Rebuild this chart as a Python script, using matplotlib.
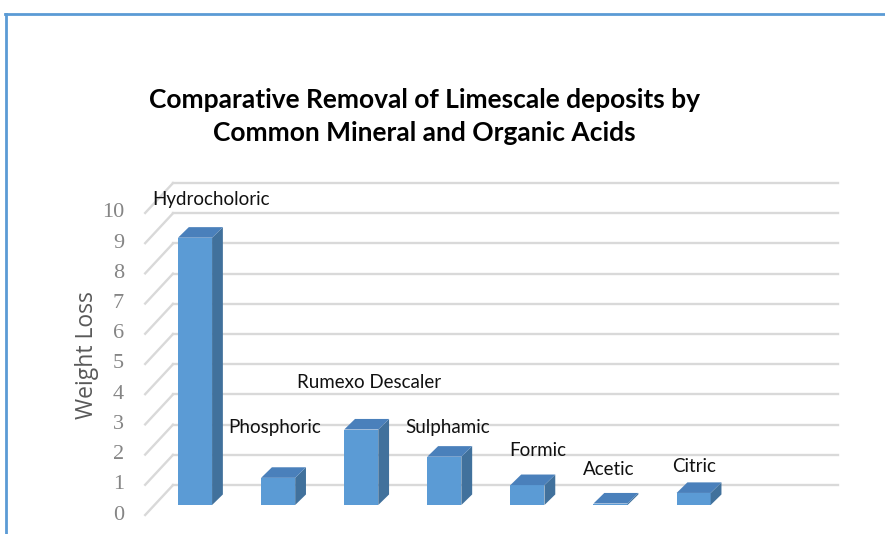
import matplotlib.pyplot as plt
from matplotlib.patches import Polygon, Rectangle
from matplotlib.lines import Line2D

acids = ["Hydrocholoric", "Phosphoric", "Rumexo Descaler", "Sulphamic",
         "Formic", "Acetic", "Citric"]
weight_loss = [8.85, 0.9, 2.5, 1.6, 0.66, 0.05, 0.4]
y_ticks = list(range(0, 11))

# label placement tweaks (data units), Excel put them a bit all over the place
label_dx = [0.19, -0.04, 0.10, 0.04, 0.13, -0.02, 0.01]
label_dy = [1.58, 2.0, 1.9, 1.3, 1.46, 1.44, 1.19]

# fake 3d geometry
w = 0.41           # bar width
base = 0.33        # bar sits a third into the floor
bx, by = 0.13, 0.35  # bar depth offset
wall_x0, wall_x1 = -0.265, 7.74
floor_x0 = -0.60
depth_y = 0.99

front_c = "#5b9bd5"
side_c = "#41719c"
top_c = "#4a80bb"
grid_c = "#d9d9d9"

fig = plt.figure(figsize=(8.85, 5.34), dpi=100)
ax = fig.add_axes([0, 0, 1, 1])
ax.set_xlim(-2.347, 8.303)
ax.set_ylim(-0.629, 17.05)
ax.axis("off")

# walls
for v in y_ticks:
    ax.plot([wall_x0, wall_x1], [v + depth_y, v + depth_y], color=grid_c, lw=1.7, zorder=1)
    ax.plot([floor_x0, wall_x0], [v, v + depth_y], color=grid_c, lw=1.7, zorder=1)
    ax.text(-0.854, v, str(v), ha="right", va="center", fontsize=16,
            family="Liberation Serif", color="#858585")

# bars
for i, v in enumerate(weight_loss):
    x0 = i - w / 2
    x1 = i + w / 2
    ax.add_patch(Rectangle((x0, base), w, v, facecolor=front_c, edgecolor="none", zorder=3))
    ax.add_patch(Polygon([(x1, base), (x1 + bx, base + by), (x1 + bx, base + by + v), (x1, base + v)],
                         closed=True, facecolor=side_c, edgecolor="none", zorder=3))
    ax.add_patch(Polygon([(x0, base + v), (x1, base + v), (x1 + bx, base + v + by), (x0 + bx, base + v + by)],
                         closed=True, facecolor=top_c, edgecolor="none", zorder=3))
    ax.text(i + label_dx[i], v + label_dy[i], acids[i], ha="center", va="center",
            fontsize=13.5, family="Lato", color="#111111", zorder=4)

ax.text(-1.30, 5.3, "Weight Loss", rotation=90, ha="center", va="center",
        fontsize=16.5, family="Open Sans", color="#595959")

fig.text(0.48, 0.781, "Comparative Removal of Limescale deposits by\nCommon Mineral and Organic Acids",
         ha="center", va="center", fontsize=19, fontweight="bold", family="Lato",
         linespacing=1.45, color="black")

# chart frame (top and left edge only visible)
fig.add_artist(Line2D([0.006, 1.0], [0.974, 0.974], color="#5b9bd5", lw=2))
fig.add_artist(Line2D([0.007, 0.007], [0.0, 0.974], color="#5b9bd5", lw=2))

fig.savefig("out.png", dpi=100)
